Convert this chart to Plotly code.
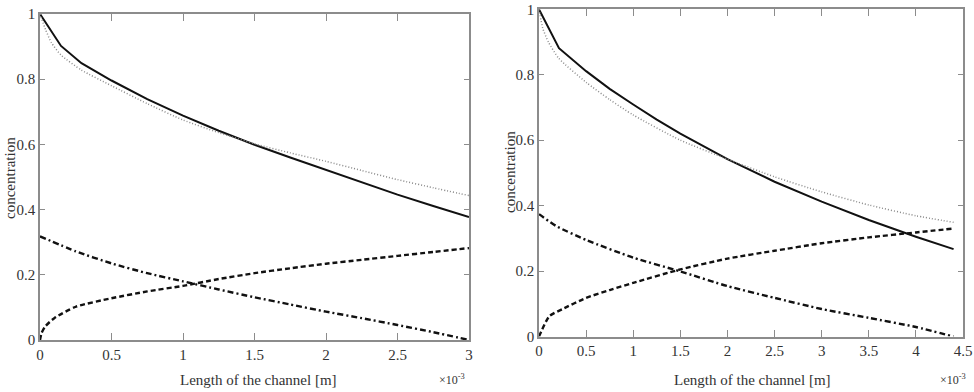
import plotly.graph_objects as go

# ---- data (x in units of 1e-3 m) ----
L_solid_x = [0, 0.147, 0.29, 0.5, 0.75, 1.0, 1.25, 1.5, 1.75, 2.0, 2.25, 2.5, 2.75, 3.0]
L_solid_y = [1.0, 0.902, 0.849, 0.796, 0.739, 0.688, 0.642, 0.599, 0.56, 0.522, 0.484, 0.446, 0.411, 0.377]
L_dot_x = [0, 0.04, 0.08, 0.147, 0.29, 0.5, 0.75, 1.0, 1.25, 1.5, 1.75, 2.0, 2.25, 2.5, 2.75, 3.0]
L_dot_y = [1.0, 0.951, 0.912, 0.874, 0.828, 0.78, 0.725, 0.675, 0.636, 0.602, 0.574, 0.548, 0.52, 0.492, 0.467, 0.443]
L_dash_x = [0, 0.01, 0.035, 0.1, 0.25, 0.5, 0.75, 1.0, 1.25, 1.5, 1.75, 2.0, 2.25, 2.5, 2.75, 3.0]
L_dash_y = [0, 0.02, 0.041, 0.067, 0.102, 0.128, 0.149, 0.166, 0.187, 0.205, 0.22, 0.234, 0.246, 0.258, 0.27, 0.282]
L_dd_x = [0, 0.25, 0.5, 0.75, 1.0, 1.25, 1.5, 1.75, 2.0, 2.25, 2.5, 2.75, 3.0]
L_dd_y = [0.318, 0.272, 0.235, 0.205, 0.18, 0.155, 0.131, 0.109, 0.087, 0.067, 0.046, 0.024, 0.0]

R_solid_x = [0, 0.212, 0.5, 0.75, 1.0, 1.25, 1.5, 2.0, 2.5, 3.0, 3.5, 4.0, 4.4]
R_solid_y = [1.0, 0.881, 0.811, 0.757, 0.709, 0.663, 0.62, 0.542, 0.473, 0.412, 0.356, 0.305, 0.267]
R_dot_x = [0, 0.04, 0.1, 0.21, 0.5, 0.75, 1.0, 1.5, 2.0, 2.5, 3.0, 3.5, 4.0, 4.4]
R_dot_y = [1.0, 0.942, 0.9, 0.85, 0.777, 0.724, 0.677, 0.6, 0.542, 0.488, 0.442, 0.402, 0.369, 0.349]
R_dash_x = [0, 0.11, 0.25, 0.5, 0.75, 1.0, 1.5, 2.0, 2.5, 3.0, 3.5, 4.0, 4.4]
R_dash_y = [0, 0.062, 0.084, 0.118, 0.142, 0.164, 0.205, 0.238, 0.262, 0.285, 0.303, 0.318, 0.330]
R_dd_x = [0, 0.18, 0.5, 1.0, 1.5, 2.0, 2.5, 3.0, 3.5, 4.0, 4.4]
R_dd_y = [0.374, 0.338, 0.295, 0.241, 0.199, 0.154, 0.118, 0.084, 0.057, 0.029, 0.0]

L_xticks = [0, 0.5, 1, 1.5, 2, 2.5, 3]
L_xlabels = ["0", "0.5", "1", "1.5", "2", "2.5", "3"]
R_xticks = [0, 0.5, 1, 1.5, 2, 2.5, 3, 3.5, 4, 4.5]
R_xlabels = ["0", "0.5", "1", "1.5", "2", "2.5", "3", "3.5", "4", "4.5"]
yticks = [0, 0.2, 0.4, 0.6, 0.8, 1]
ylabels = ["0", "0.2", "0.4", "0.6", "0.8", "1"]

x_title = "Length of the channel [m]"
y_title = "concentration"
exp_label = "×10<sup>-3</sup>"

FONT = "Liberation Serif, Times New Roman, serif"
W, H = 974, 392

styles = [
    dict(color="#111111", width=2.0, dash="solid"),
    dict(color="#8a8a8a", width=1.5, dash="1px,2px"),
    dict(color="#111111", width=2.4, dash="5px,3px"),
    dict(color="#111111", width=2.4, dash="6px,3px,2px,3px"),
]
shapes_line = ["linear", "spline", "spline", "spline"]

fig = go.Figure()
left = [(L_solid_x, L_solid_y), (L_dot_x, L_dot_y), (L_dash_x, L_dash_y), (L_dd_x, L_dd_y)]
right = [(R_solid_x, R_solid_y), (R_dot_x, R_dot_y), (R_dash_x, R_dash_y), (R_dd_x, R_dd_y)]
for (xs, ys), st, sh in zip(left, styles, shapes_line):
    fig.add_trace(go.Scatter(x=xs, y=ys, mode="lines", line=dict(shape=sh, smoothing=0.6, **st),
                             xaxis="x", yaxis="y", showlegend=False, hoverinfo="skip"))
for (xs, ys), st, sh in zip(right, styles, shapes_line):
    fig.add_trace(go.Scatter(x=xs, y=ys, mode="lines", line=dict(shape=sh, smoothing=0.6, **st),
                             xaxis="x2", yaxis="y2", showlegend=False, hoverinfo="skip"))

axis_common = dict(showline=True, linecolor="#8c8c8c", linewidth=1.5, mirror="ticks",
                   ticks="inside", tickcolor="#8c8c8c", tickwidth=1, showgrid=False,
                   zeroline=False, automargin=False, ticklabeloverflow="allow",
                   tickfont=dict(family=FONT, size=15, color="#333333"))

def px_x(p):
    return p / W

def px_y(p):
    return 1 - p / H

fig.update_layout(
    width=W, height=H,
    margin=dict(l=0, r=0, t=0, b=0, autoexpand=False),
    paper_bgcolor="white", plot_bgcolor="white",
    xaxis=dict(domain=[px_x(40), px_x(469)], range=[0, 3], tickvals=L_xticks, ticktext=L_xlabels,
               anchor="y", ticklen=7, **axis_common),
    yaxis=dict(domain=[px_y(340), px_y(14)], range=[0, 1], tickvals=yticks, ticktext=ylabels,
               anchor="x", ticklen=5, **axis_common),
    xaxis2=dict(domain=[px_x(539), px_x(963)], range=[0, 4.5], tickvals=R_xticks, ticktext=R_xlabels,
                anchor="y2", ticklen=7, **axis_common),
    yaxis2=dict(domain=[px_y(336.5), px_y(9.3)], range=[0, 1], tickvals=yticks, ticktext=ylabels,
                anchor="x2", ticklen=5, **axis_common),
)

ann_font = dict(family=FONT, size=15, color="#333333")
anns = [
    dict(text=x_title, x=px_x(258), y=px_y(380), xanchor="center", yanchor="middle"),
    dict(text=x_title, x=px_x(752), y=px_y(380), xanchor="center", yanchor="middle"),
    dict(text=y_title, x=px_x(10), y=px_y(178), xanchor="center", yanchor="middle", textangle=-90),
    dict(text=y_title, x=px_x(510), y=px_y(172), xanchor="center", yanchor="middle", textangle=-90),
]
for a in anns:
    fig.add_annotation(xref="paper", yref="paper", showarrow=False, font=ann_font, **a)
for xc in (452, 953):
    fig.add_annotation(xref="paper", yref="paper", showarrow=False, text=exp_label,
                       x=px_x(xc), y=px_y(379), xanchor="center", yanchor="middle",
                       font=dict(family=FONT, size=12, color="#333333"))

# remove the default 8px page margin so the 974x392 figure fills the window exactly
fig.write_html("out.html", config={"displayModeBar": False},
               post_script="document.body.style.margin='0';")
